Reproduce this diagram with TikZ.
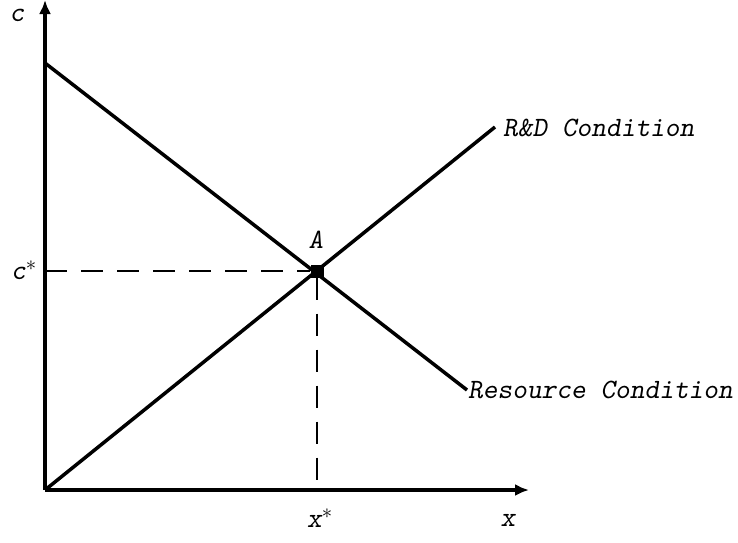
\documentclass[tikz,border=0pt]{standalone}
\usepackage{fontspec}
\usepackage{tikz}
\usetikzlibrary{arrows.meta, positioning}

\begin{document}
\begin{tikzpicture}[
  x=1pt, y=-1pt,
  >={Latex[length=14pt, width=12pt]},
  axis/.style={->, line width=3.5pt},
  curve/.style={line width=3.5pt},
  guide/.style={line width=1.5pt, dash pattern=on 22pt off 14pt},
  lbl/.style={font=\fontsize{28}{30}\selectfont\ttfamily\slshape, inner sep=0pt},
  eqpt/.style={fill=black, minimum size=13pt, inner sep=0pt, rectangle}
]
\useasboundingbox (0,0) rectangle (738,542);

% --- axes ---
\coordinate (O)    at (45,490);
\coordinate (ctop) at (45,0);
\coordinate (xend) at (529,490);
\draw[axis] (O) -- (ctop);
\draw[axis] (O) -- (xend);

% --- the two conditions ---
\coordinate (res0) at (45,63);
\coordinate (res1) at (467,390);
\coordinate (rd1)  at (495,127);
\draw[curve] (res0) -- (res1);
\draw[curve] (O) -- (rd1);

% --- equilibrium ---
\node[eqpt] (A) at (317,271) {};
\coordinate (cstar) at (45,271);
\coordinate (xstar) at (317,490);
\draw[guide] (cstar) -- (A);
\draw[guide] (A) -- (xstar);

% --- labels ---
\node[lbl] (clab)  at (17,15)  {c};
\node[lbl] (xlab)  at (508,520) {x};
\node[lbl] (alab)  at (316,240) {A};
\node[lbl] (cslab) at (24,270) {c$^{*}$};
\node[lbl] (xslab) at (320,518) {x$^{*}$};
\node[lbl, anchor=west] (rdlab)  at (503,128) {R\&D Condition};
\node[lbl, anchor=west] (reslab) at (468,390) {Resource Condition};

\end{tikzpicture}
\end{document}
